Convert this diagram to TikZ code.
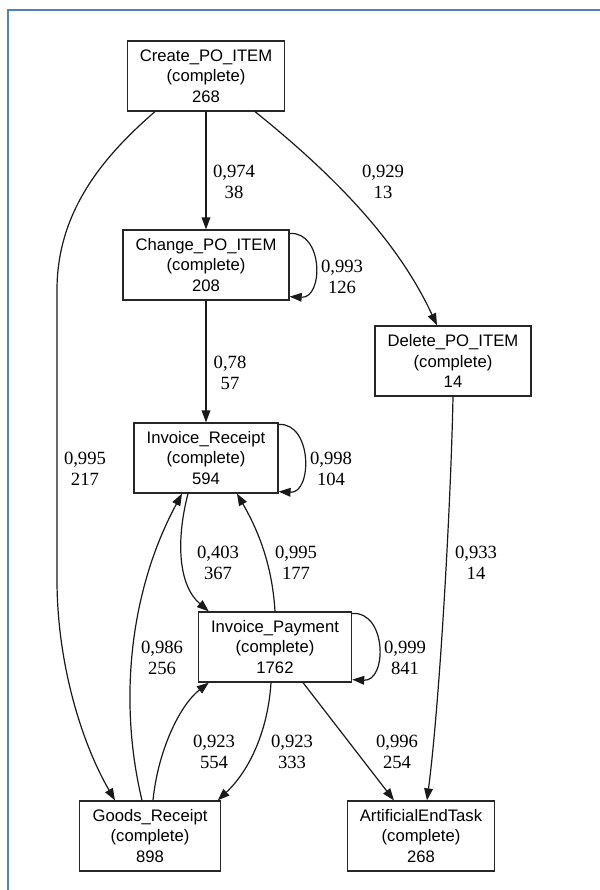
\documentclass[tikz,border=0pt]{standalone}
\usepackage{fontspec}
\setmainfont{Liberation Sans}
\newfontfamily\edgefont{Liberation Serif}
\usepackage{tikz}
\usetikzlibrary{arrows.meta, positioning, calc}
\definecolor{frameblue}{RGB}{79,129,189}
\tikzset{
    task/.style={
        rectangle, draw=black!85, line width=0.9pt, fill=white, align=center,
        minimum height=52.5pt, inner xsep=9.5pt, inner ysep=2pt,
        font=\fontsize{12.5}{15.4}\selectfont
    },
    edge/.style={
        line width=0.9pt, draw=black!90, -{Triangle[length=9pt, width=6.5pt]}
    },
    edge_label/.style={
        align=center, inner sep=0pt, font=\edgefont\fontsize{14}{15.8}\selectfont
    }
}

\begin{document}
\begin{tikzpicture}[x=0.75pt, y=-0.75pt]
    \useasboundingbox (0,0) rectangle (600,890);
    \draw[frameblue, line width=2pt] (8,890) -- (8,10) -- (600,10);

    \node[task] (create) at (206,76) {Create\_PO\_ITEM\\(complete)\\268};
    \node[task] (change) at (206,265) {Change\_PO\_ITEM\\(complete)\\208};
    \node[task] (delete) at (453,361) {Delete\_PO\_ITEM\\(complete)\\14};
    \node[task] (receipt) at (206,458) {Invoice\_Receipt\\(complete)\\594};
    \node[task] (payment) at (275,647) {Invoice\_Payment\\(complete)\\1762};
    \node[task] (goods) at (150,836) {Goods\_Receipt\\(complete)\\898};
    \node[task] (end_task) at (421,836) {ArtificialEndTask\\(complete)\\268};

    \draw[edge] (create) -- (change) node[edge_label] at (234,182) {0,974\\38};
    \draw[edge] ($(create.south)+(49,0)$) .. controls (345,184) and (401,248) .. ($(delete.north)+(-16,0)$) node[edge_label] at (383,182) {0,929\\13};
    \draw[edge] ($(create.south)+(-51,0)$) .. controls (105,155) and (57,210) .. (57,290) -- (57,580) .. controls (57,660) and (80,740) .. ($(goods.north)+(-35,0)$) node[edge_label] at (85,469) {0,995\\217};
    \draw[edge] ($(change.north east)+(0,4)$) .. controls +(34,-2) and +(34,2) .. ($(change.south east)+(0,-4)$) node[edge_label] at (342,277) {0,993\\126};
    \draw[edge] (change) -- (receipt) node[edge_label] at (230,373) {0,78\\57};
    \draw[edge] ($(receipt.north east)+(0,2)$) .. controls +(34,-2) and +(34,2) .. ($(receipt.south east)+(0,-2)$) node[edge_label] at (331,469) {0,998\\104};
    \draw[edge] ($(receipt.south)+(-18,0)$) .. controls (176,540) and (178,585) .. ($(payment.north west)+(11,0)$) node[edge_label] at (218,563) {0,403\\367};
    \draw[edge] (payment.north) .. controls (272,560) and (255,525) .. ($(receipt.south)+(31,0)$) node[edge_label] at (296,563) {0,995\\177};
    \draw[edge] (delete.south) .. controls (451,500) and (440,700) .. ($(end_task.north)+(6,0)$) node[edge_label] at (476,563) {0,933\\14};
    \draw[edge] ($(goods.north)+(-8,0)$) .. controls (118,700) and (130,590) .. ($(receipt.south)+(-24,0)$) node[edge_label] at (162,658) {0,986\\256};
    \draw[edge] ($(payment.north east)+(0,2)$) .. controls +(35,-2) and +(35,2) .. ($(payment.south east)+(0,-3)$) node[edge_label] at (405,658) {0,999\\841};
    \draw[edge] ($(goods.north)+(3,0)$) .. controls (158,750) and (180,705) .. ($(payment.south west)+(11,0)$) node[edge_label] at (214,752) {0,923\\554};
    \draw[edge] ($(payment.south)+(-4,0)$) .. controls (268,730) and (250,770) .. ($(goods.north east)+(-3,0)$) node[edge_label] at (292,752) {0,923\\333};
    \draw[edge] ($(payment.south)+(28,0)$) -- ($(end_task.north)+(-27,0)$) node[edge_label] at (397,752) {0,996\\254};
\end{tikzpicture}
\end{document}
